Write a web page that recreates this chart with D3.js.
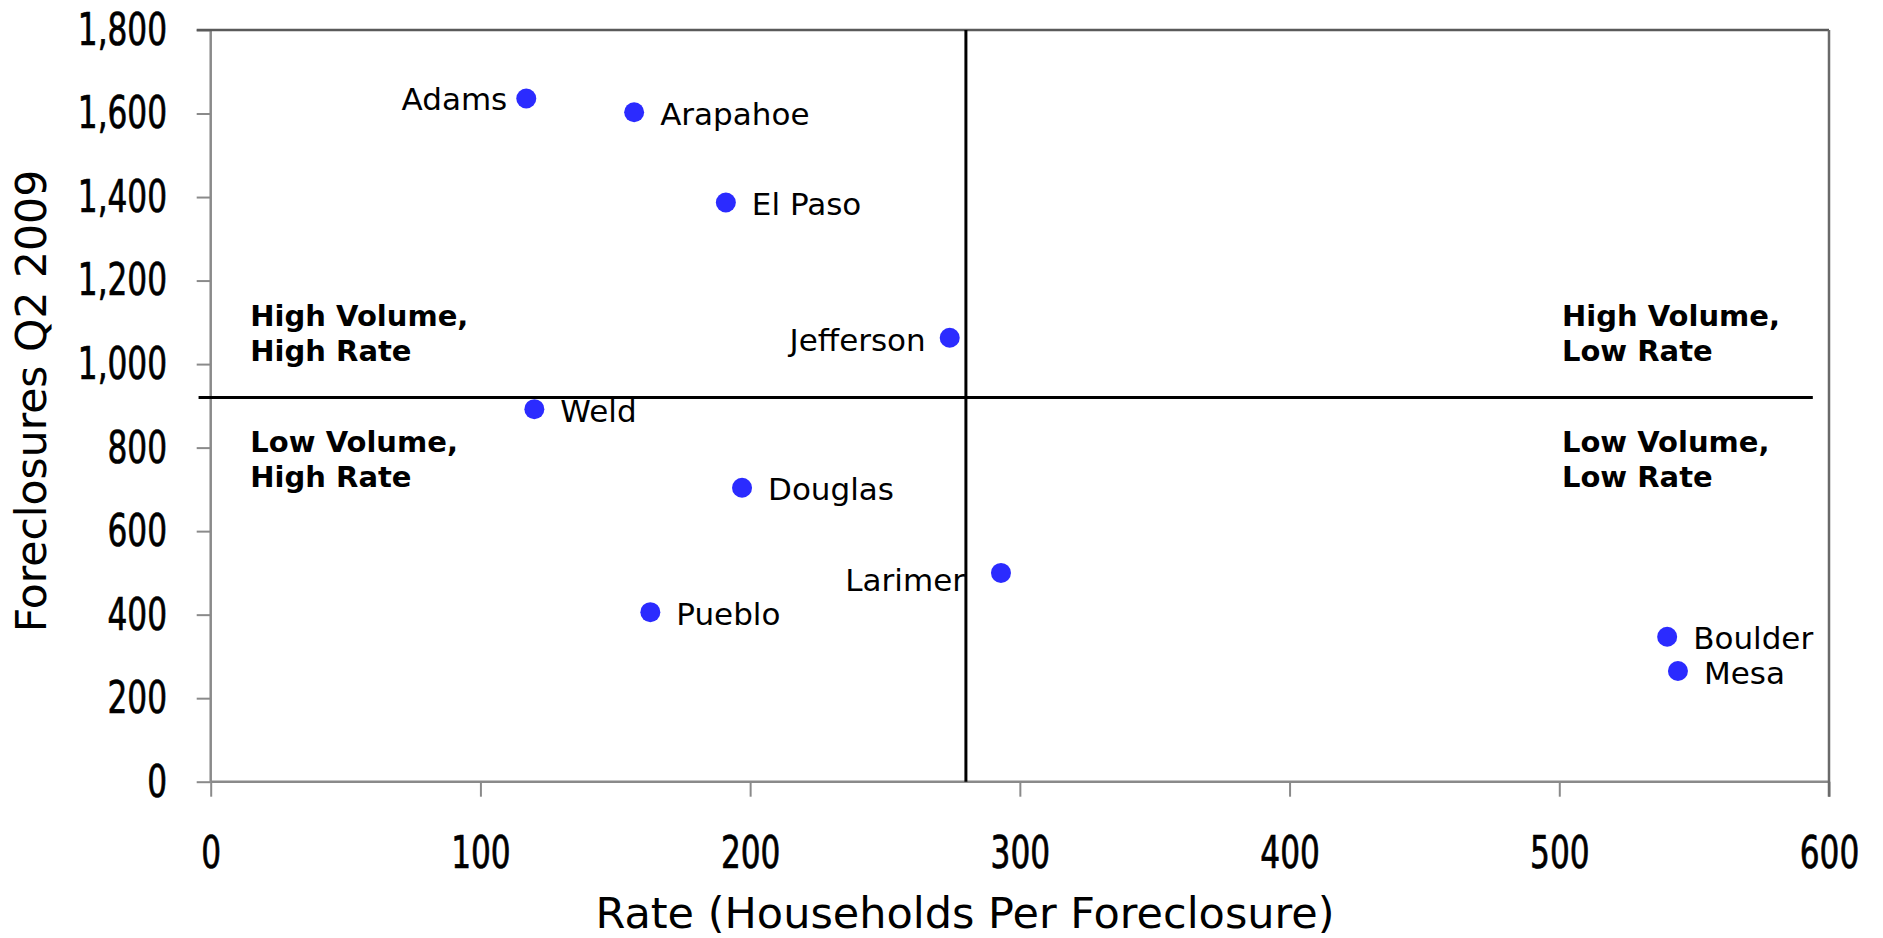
<!DOCTYPE html>
<html>
<head>
<meta charset="utf-8">
<script src="https://cdn.jsdelivr.net/npm/d3@7"></script>
<style>
  html, body { margin: 0; padding: 0; background: #fff; }
  svg { display: block; }
</style>
</head>
<body>
<svg id="chart" width="1883" height="938"></svg>
<script>
// ---- data ----
const counties = ["Adams", "Arapahoe", "El Paso", "Jefferson", "Weld", "Douglas", "Larimer", "Pueblo", "Boulder", "Mesa"];
const rates = [117, 157, 191, 274, 120, 197, 293, 163, 540, 544];
const foreclosures = [1636, 1603, 1387, 1063, 892, 704, 500, 406, 347, 265];
const xTicks = [0, 100, 200, 300, 400, 500, 600];
const yTicks = [0, 200, 400, 600, 800, 1000, 1200, 1400, 1600, 1800];
const dividerRate = 280;
const dividerVolume = 920;
const quadrantLabels = [
  ["High Volume,", "High Rate"],
  ["Low Volume,", "High Rate"],
  ["High Volume,", "Low Rate"],
  ["Low Volume,", "Low Rate"]
];
const xTitle = "Rate (Households Per Foreclosure)";
const yTitle = "Foreclosures Q2 2009";

// ---- layout ----
const W = 1883, H = 938;
const m = { left: 210.7, top: 30, right: 54, bottom: 156.3 };
const iw = W - m.left - m.right, ih = H - m.top - m.bottom;
const svg = d3.select("#chart");
const g = svg.append("g").attr("transform", `translate(${m.left},${m.top})`);

const x = d3.scaleLinear().domain([0, 600]).range([0, iw]);
const y = d3.scaleLinear().domain([0, 1800]).range([ih, 0]);

const tickFont = "'DejaVu Sans Condensed', 'DejaVu Sans', sans-serif";
const textFont = "'DejaVu Sans', Verdana, sans-serif";
const sx = 0.77; // horizontal squeeze for the narrow tick font

// axes
const yAxis = g.append("g").call(d3.axisLeft(y).tickValues(yTicks).tickFormat(d3.format(",")).tickSize(14).tickPadding(29.7));
const xAxis = g.append("g").attr("transform", `translate(0,${ih})`)
  .call(d3.axisBottom(x).tickValues(xTicks).tickFormat(d3.format("d")).tickSize(15).tickPadding(0));
[yAxis, xAxis].forEach(a => {
  a.select(".domain").attr("stroke", "#8a8a8a").attr("stroke-width", 2.5);
  a.selectAll(".tick line").attr("stroke", "#8a8a8a").attr("stroke-width", 2);
  a.selectAll(".tick text").attr("fill", "#000").attr("stroke", "#000").attr("stroke-width", 0.7)
    .style("font-family", tickFont).style("font-size", "45px");
});
yAxis.select(".domain").attr("d", `M0,${ih}V0`);
xAxis.select(".domain").attr("d", `M0,0H${iw}`);
yAxis.selectAll(".tick text").attr("x", -43.7 / sx).attr("transform", `scale(${sx},1)`);
xAxis.selectAll(".tick text").attr("y", 0).attr("dy", null)
  .attr("transform", `translate(0,86) scale(${sx},1)`);

// top and right frame
g.append("line").attr("x1", -14).attr("x2", x(600)).attr("y1", y(1800)).attr("y2", y(1800))
  .attr("stroke", "#5a5a5a").attr("stroke-width", 2.5);
g.append("line").attr("x1", x(600)).attr("x2", x(600)).attr("y1", y(1800)).attr("y2", ih + 15)
  .attr("stroke", "#6a6a6a").attr("stroke-width", 2.5);

// quadrant dividers
g.append("line").attr("x1", x(dividerRate)).attr("x2", x(dividerRate)).attr("y1", y(1800)).attr("y2", y(0))
  .attr("stroke", "#000").attr("stroke-width", 3);
g.append("line").attr("x1", x(-4.5)).attr("x2", x(594)).attr("y1", y(dividerVolume)).attr("y2", y(dividerVolume))
  .attr("stroke", "#000").attr("stroke-width", 3);

// quadrant labels
const qPos = [
  { rate: 14.7, vol: 1092 }, { rate: 14.7, vol: 789 },
  { rate: 501, vol: 1092 }, { rate: 501, vol: 789 }
];
quadrantLabels.forEach((lines, i) => {
  const t = g.append("text")
    .attr("x", x(qPos[i].rate)).attr("y", y(qPos[i].vol))
    .style("font-family", textFont).style("font-weight", "bold").style("font-size", "29px").attr("fill", "#000");
  lines.forEach((s, j) => t.append("tspan").attr("x", x(qPos[i].rate)).attr("dy", j === 0 ? 0 : 35).text(s));
});

// points
const pts = counties.map((c, i) => ({ name: c, rate: rates[i], vol: foreclosures[i] }));
g.selectAll("circle.pt").data(pts).enter().append("circle").attr("class", "pt")
  .attr("cx", d => x(d.rate)).attr("cy", d => y(d.vol)).attr("r", 10).attr("fill", "#2b2bff");

// label placement (style, not data)
const leftLabels = { "Adams": [-19, 12], "Jefferson": [-24, 13], "Larimer": [-36, 17.7] };
g.selectAll("text.lbl").data(pts).enter().append("text").attr("class", "lbl")
  .attr("x", d => x(d.rate) + (leftLabels[d.name] ? leftLabels[d.name][0] : 26))
  .attr("y", d => y(d.vol) + (leftLabels[d.name] ? leftLabels[d.name][1] : 12.7))
  .attr("text-anchor", d => leftLabels[d.name] ? "end" : "start")
  .style("font-family", textFont).style("font-size", "31px").attr("fill", "#000")
  .text(d => d.name);

// axis titles
svg.append("text").attr("x", 965).attr("y", 928).attr("text-anchor", "middle")
  .style("font-family", textFont).style("font-size", "43px").attr("fill", "#000").text(xTitle);
svg.append("text").attr("transform", "translate(46,401) rotate(-90)").attr("text-anchor", "middle")
  .style("font-family", textFont).style("font-size", "42.5px").attr("fill", "#000").text(yTitle);
</script>
</body>
</html>
